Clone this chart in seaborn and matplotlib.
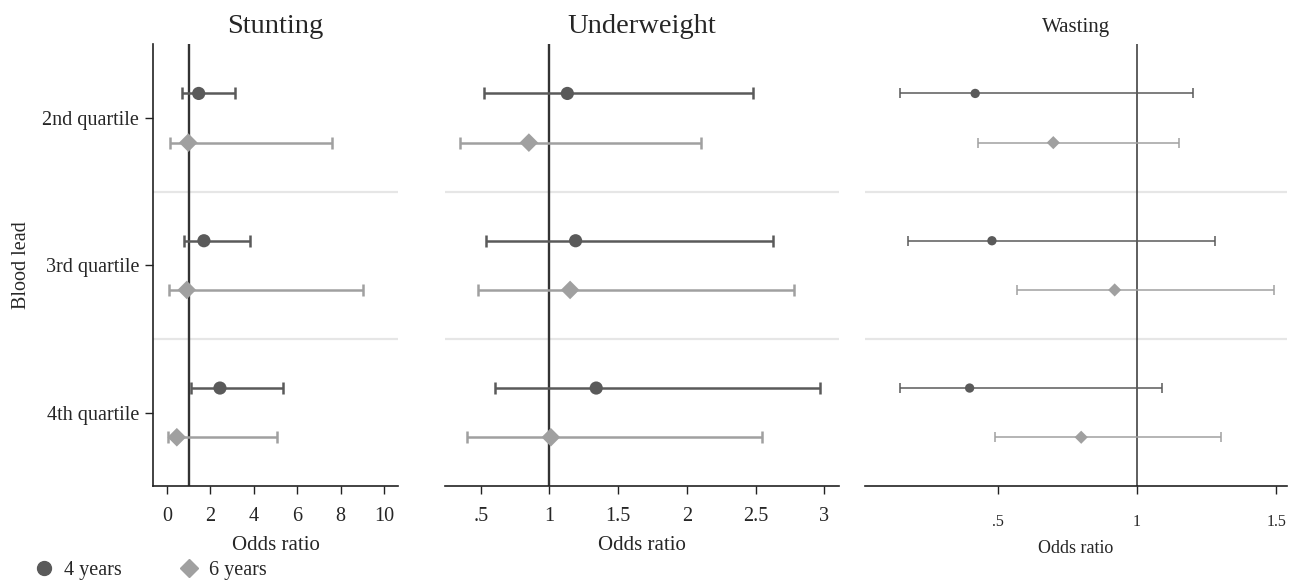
import matplotlib
matplotlib.use("Agg")
import matplotlib.pyplot as plt
from matplotlib.lines import Line2D
import seaborn as sns
import pandas as pd

# datos
categorias = ["2nd quartile", "3rd quartile", "4th quartile"]
paneles = ["Stunting", "Underweight", "Wasting"]

stunt_or4 = [1.46, 1.70, 2.44]
stunt_lo4 = [0.68, 0.77, 1.09]
stunt_hi4 = [3.13, 3.81, 5.35]
stunt_or6 = [0.98, 0.91, 0.45]
stunt_lo6 = [0.14, 0.11, 0.03]
stunt_hi6 = [7.62, 9.03, 5.07]

under_or4 = [1.13, 1.19, 1.34]
under_lo4 = [0.52, 0.54, 0.60]
under_hi4 = [2.48, 2.63, 2.97]
under_or6 = [0.85, 1.15, 1.01]
under_lo6 = [0.35, 0.48, 0.40]
under_hi6 = [2.10, 2.78, 2.55]

waste_or4 = [0.42, 0.48, 0.40]
waste_lo4 = [0.15, 0.18, 0.15]
waste_hi4 = [1.20, 1.28, 1.09]
waste_or6 = [0.70, 0.92, 0.80]
waste_lo6 = [0.43, 0.57, 0.49]
waste_hi6 = [1.15, 1.49, 1.30]

x_ticks = [[0, 2, 4, 6, 8, 10], [0.5, 1, 1.5, 2, 2.5, 3], [0.5, 1, 1.5]]
x_ticklabels = [["0", "2", "4", "6", "8", "10"],
                [".5", "1", "1.5", "2", "2.5", "3"],
                [".5", "1", "1.5"]]
x_lims = [(-0.65, 10.65), (0.24, 3.107), (0.025, 1.538)]

datos = {
    "Stunting": [(stunt_or4, stunt_lo4, stunt_hi4), (stunt_or6, stunt_lo6, stunt_hi6)],
    "Underweight": [(under_or4, under_lo4, under_hi4), (under_or6, under_lo6, under_hi6)],
    "Wasting": [(waste_or4, waste_lo4, waste_hi4), (waste_or6, waste_lo6, waste_hi6)],
}

grupos = ["4 years", "6 years"]
colores = {"4 years": "#5a5a5a", "6 years": "#a0a0a0"}
marcadores = {"4 years": "o", "6 years": "D"}
desplaz = {"4 years": -0.167, "6 years": 0.167}

filas = []
for p in paneles:
    for g, (orr, lo, hi) in zip(grupos, datos[p]):
        for i, c in enumerate(categorias):
            filas.append({"panel": p, "grupo": g, "cat": c, "pos": i + 1 + desplaz[g],
                          "OR": orr[i], "lo": lo[i], "hi": hi[i]})
df = pd.DataFrame(filas)

sns.set_style("white")
plt.rcParams["font.family"] = ["Liberation Serif", "DejaVu Serif"]

fig = plt.figure(figsize=(12.93, 5.81), dpi=100)
posiciones = [[0.1183, 0.163, 0.1895, 0.7606],
              [0.3442, 0.163, 0.3047, 0.7606],
              [0.669, 0.163, 0.3264, 0.7606]]

for k, p in enumerate(paneles):
    ax = fig.add_axes(posiciones[k])
    sub = df[df["panel"] == p]
    chico = (p == "Wasting")
    lw = 1.1 if chico else 1.8
    cap = 3.3 if chico else 4.0

    # separadores entre cuartiles
    for s in [1.5, 2.5]:
        ax.axhline(s, color="#e6e6e6", lw=1.6, zorder=0)
    ax.axvline(1, color="#333333", lw=1.1 if chico else 1.7, zorder=1)

    for g in grupos:
        d = sub[sub["grupo"] == g]
        ax.errorbar(d["OR"], d["pos"],
                    xerr=[d["OR"] - d["lo"], d["hi"] - d["OR"]],
                    fmt="none", ecolor=colores[g], elinewidth=lw,
                    capsize=cap, capthick=lw, zorder=2)

    sns.scatterplot(data=sub, x="OR", y="pos", hue="grupo", style="grupo",
                    palette=colores, markers=marcadores,
                    s=(45 if chico else 90), edgecolor="none",
                    legend=False, ax=ax, zorder=3)

    ax.set_ylim(3.5, 0.5)
    ax.set_xlim(*x_lims[k])
    ax.set_xticks(x_ticks[k])
    ax.set_xticklabels(x_ticklabels[k], fontsize=11.5 if chico else 14.5)
    ax.tick_params(axis="x", direction="out", length=6, width=1, color="#222222",
                   pad=14 if chico else 9, bottom=True)
    ax.set_xlabel("Odds ratio", fontsize=13 if chico else 15, labelpad=7)
    ax.set_title(p, fontsize=15 if chico else 20.5, pad=9 if chico else 8)

    for lado in ["top", "right"]:
        ax.spines[lado].set_visible(False)
    ax.spines["bottom"].set_color("#222222")
    ax.spines["bottom"].set_linewidth(1.2)

    if k == 0:
        ax.set_yticks([1, 2, 3])
        ax.set_yticklabels(categorias, fontsize=14.5)
        ax.tick_params(axis="y", direction="out", length=6, width=1,
                       color="#222222", left=True, pad=4)
        ax.spines["left"].set_color("#222222")
        ax.spines["left"].set_linewidth(1.2)
        ax.set_ylabel("Blood lead", fontsize=14.5, labelpad=8)
    else:
        ax.set_yticks([])
        ax.set_ylabel("")
        ax.spines["left"].set_visible(False)

# leyenda
manejadores = [Line2D([], [], ls="none", marker="o", color=colores["4 years"], markersize=10),
               Line2D([], [], ls="none", marker="D", color=colores["6 years"], markersize=9)]
fig.legend(manejadores, grupos, loc="lower left", bbox_to_anchor=(0.012, -0.03),
           ncol=2, frameon=False, fontsize=14.5, handletextpad=0.5,
           columnspacing=2.85, handlelength=1.0)

plt.savefig("out.png", dpi=100)
